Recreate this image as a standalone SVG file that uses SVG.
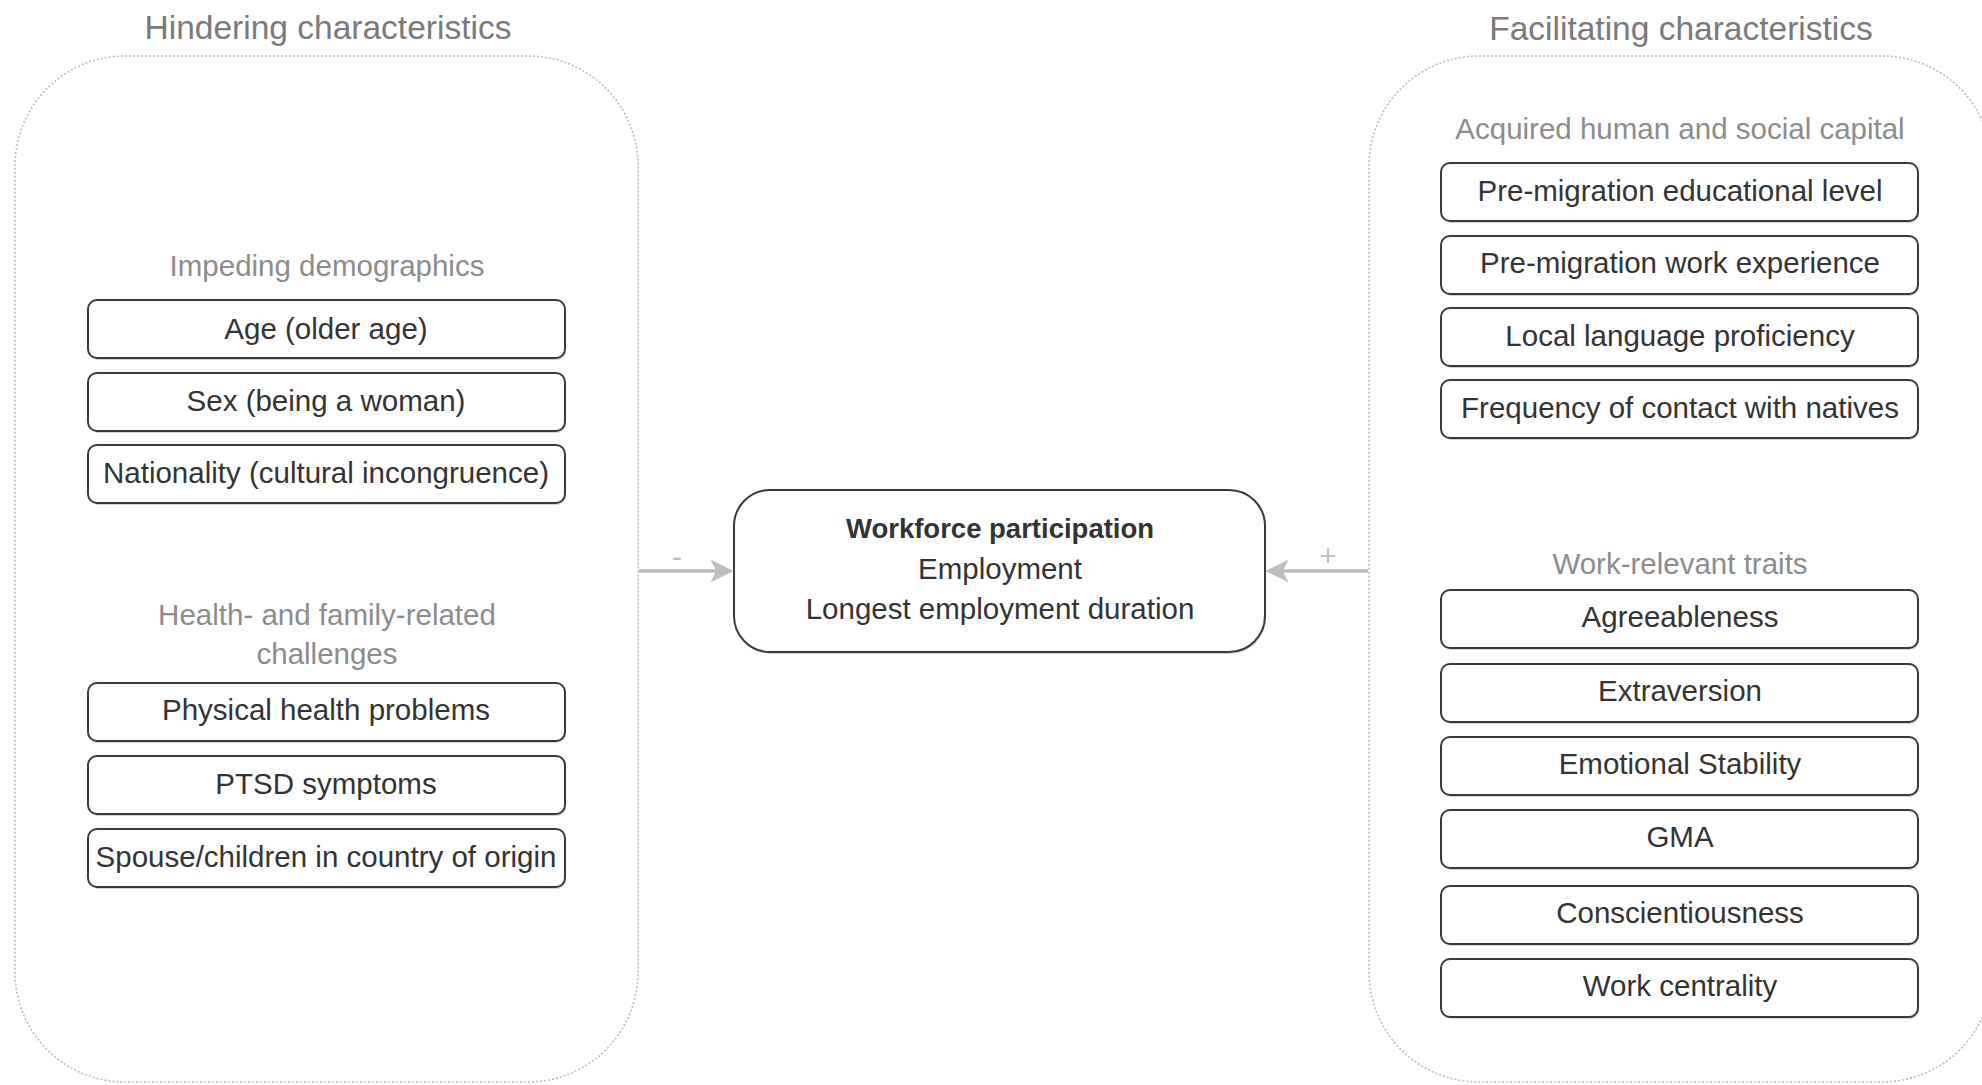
<svg xmlns="http://www.w3.org/2000/svg" width="1982" height="1085" viewBox="0 0 1982 1085">
<style>
.bg{fill:#ffffff}
.group{fill:#ffffff;stroke:#bdbdbd;stroke-width:1.6;stroke-dasharray:2 2}
.title{font-family:"Liberation Sans",Arial,sans-serif;font-size:33.5px;fill:#7a7a7a;text-anchor:middle;dominant-baseline:central}
.sub{font-family:"Liberation Sans",Arial,sans-serif;font-size:29.5px;fill:#8c8c8c;text-anchor:middle;dominant-baseline:central}
.box{fill:#ffffff;stroke:#3a3a3a;stroke-width:2}
.shadow{fill:#d6d6d6}
.lbl{font-family:"Liberation Sans",Arial,sans-serif;font-size:29.5px;fill:#333333;text-anchor:middle;dominant-baseline:central}
.bold{font-weight:bold;font-size:27.5px}
.conn{stroke:#bdbdbd;stroke-width:3.5;fill:none}
.sign{font-family:"Liberation Sans",Arial,sans-serif;font-size:30px;fill:#bdbdbd;text-anchor:middle;dominant-baseline:central}
</style>
<defs>
<marker id="arr" viewBox="0 0 10 10" refX="9" refY="5" markerWidth="6.5" markerHeight="6.5" orient="auto" markerUnits="strokeWidth">
<path d="M0,0 L10,5 L0,10 L2.5,5 Z" fill="#bdbdbd"/>
</marker>
</defs>
<rect class="bg" x="0" y="0" width="1982" height="1085"/>

<g id="hindering">
<rect class="group" x="15" y="56" width="623" height="1026" rx="110" ry="110"/>
<text class="title" x="328" y="27">Hindering characteristics</text>
</g>

<g id="facilitating">
<rect class="group" x="1369" y="56" width="623" height="1026" rx="110" ry="110"/>
<text class="title" x="1681" y="28">Facilitating characteristics</text>
</g>

<g id="impeding-demographics">
<text class="sub" x="327" y="265">Impeding demographics</text>
</g>
<g id="age">
<rect class="shadow" x="89" y="302" width="477" height="58" rx="9"/>
<rect class="box" x="88" y="300" width="477" height="58" rx="9"/>
<text class="lbl" x="326" y="328">Age (older age)</text>
</g>
<g id="sex">
<rect class="shadow" x="89" y="375" width="477" height="58" rx="9"/>
<rect class="box" x="88" y="373" width="477" height="58" rx="9"/>
<text class="lbl" x="326" y="400">Sex (being a woman)</text>
</g>
<g id="nationality">
<rect class="shadow" x="89" y="447" width="477" height="58" rx="9"/>
<rect class="box" x="88" y="445" width="477" height="58" rx="9"/>
<text class="lbl" x="326" y="472">Nationality (cultural incongruence)</text>
</g>

<g id="health-family">
<text class="sub" x="327" y="614">Health- and family-related</text>
<text class="sub" x="327" y="653">challenges</text>
</g>
<g id="physical">
<rect class="shadow" x="89" y="685" width="477" height="58" rx="9"/>
<rect class="box" x="88" y="683" width="477" height="58" rx="9"/>
<text class="lbl" x="326" y="709">Physical health problems</text>
</g>
<g id="ptsd">
<rect class="shadow" x="89" y="758" width="477" height="58" rx="9"/>
<rect class="box" x="88" y="756" width="477" height="58" rx="9"/>
<text class="lbl" x="326" y="783">PTSD symptoms</text>
</g>
<g id="spouse">
<rect class="shadow" x="89" y="831" width="477" height="58" rx="9"/>
<rect class="box" x="88" y="829" width="477" height="58" rx="9"/>
<text class="lbl" x="326" y="856">Spouse/children in country of origin</text>
</g>

<g id="workforce">
<rect class="shadow" x="735" y="492" width="531" height="162" rx="36"/>
<rect class="box" x="734" y="490" width="531" height="162" rx="36"/>
<text class="lbl bold" x="1000" y="528">Workforce participation</text>
<text class="lbl" x="1000" y="568">Employment</text>
<text class="lbl" x="1000" y="608">Longest employment duration</text>
</g>

<g id="acquired-capital">
<text class="sub" x="1680" y="128">Acquired human and social capital</text>
</g>
<g id="education">
<rect class="shadow" x="1442" y="165" width="477" height="58" rx="9"/>
<rect class="box" x="1441" y="163" width="477" height="58" rx="9"/>
<text class="lbl" x="1680" y="190">Pre-migration educational level</text>
</g>
<g id="work-experience">
<rect class="shadow" x="1442" y="238" width="477" height="58" rx="9"/>
<rect class="box" x="1441" y="236" width="477" height="58" rx="9"/>
<text class="lbl" x="1680" y="262">Pre-migration work experience</text>
</g>
<g id="language">
<rect class="shadow" x="1442" y="310" width="477" height="58" rx="9"/>
<rect class="box" x="1441" y="308" width="477" height="58" rx="9"/>
<text class="lbl" x="1680" y="335">Local language proficiency</text>
</g>
<g id="contact">
<rect class="shadow" x="1442" y="382" width="477" height="58" rx="9"/>
<rect class="box" x="1441" y="380" width="477" height="58" rx="9"/>
<text class="lbl" x="1680" y="407">Frequency of contact with natives</text>
</g>

<g id="work-traits">
<text class="sub" x="1680" y="563">Work-relevant traits</text>
</g>
<g id="agreeableness">
<rect class="shadow" x="1442" y="592" width="477" height="58" rx="9"/>
<rect class="box" x="1441" y="590" width="477" height="58" rx="9"/>
<text class="lbl" x="1680" y="616">Agreeableness</text>
</g>
<g id="extraversion">
<rect class="shadow" x="1442" y="666" width="477" height="58" rx="9"/>
<rect class="box" x="1441" y="664" width="477" height="58" rx="9"/>
<text class="lbl" x="1680" y="690">Extraversion</text>
</g>
<g id="emotional-stability">
<rect class="shadow" x="1442" y="739" width="477" height="58" rx="9"/>
<rect class="box" x="1441" y="737" width="477" height="58" rx="9"/>
<text class="lbl" x="1680" y="763">Emotional Stability</text>
</g>
<g id="gma">
<rect class="shadow" x="1442" y="812" width="477" height="58" rx="9"/>
<rect class="box" x="1441" y="810" width="477" height="58" rx="9"/>
<text class="lbl" x="1680" y="836">GMA</text>
</g>
<g id="conscientiousness">
<rect class="shadow" x="1442" y="888" width="477" height="58" rx="9"/>
<rect class="box" x="1441" y="886" width="477" height="58" rx="9"/>
<text class="lbl" x="1680" y="912">Conscientiousness</text>
</g>
<g id="work-centrality">
<rect class="shadow" x="1442" y="961" width="477" height="58" rx="9"/>
<rect class="box" x="1441" y="959" width="477" height="58" rx="9"/>
<text class="lbl" x="1680" y="985">Work centrality</text>
</g>

<g id="connectors">
<line class="conn" x1="639" y1="571" x2="731" y2="571" marker-end="url(#arr)"/>
<text class="sign" x="677" y="556">-</text>
<line class="conn" x1="1368" y1="571" x2="1268" y2="571" marker-end="url(#arr)"/>
<text class="sign" x="1328" y="555">+</text>
</g>
</svg>
